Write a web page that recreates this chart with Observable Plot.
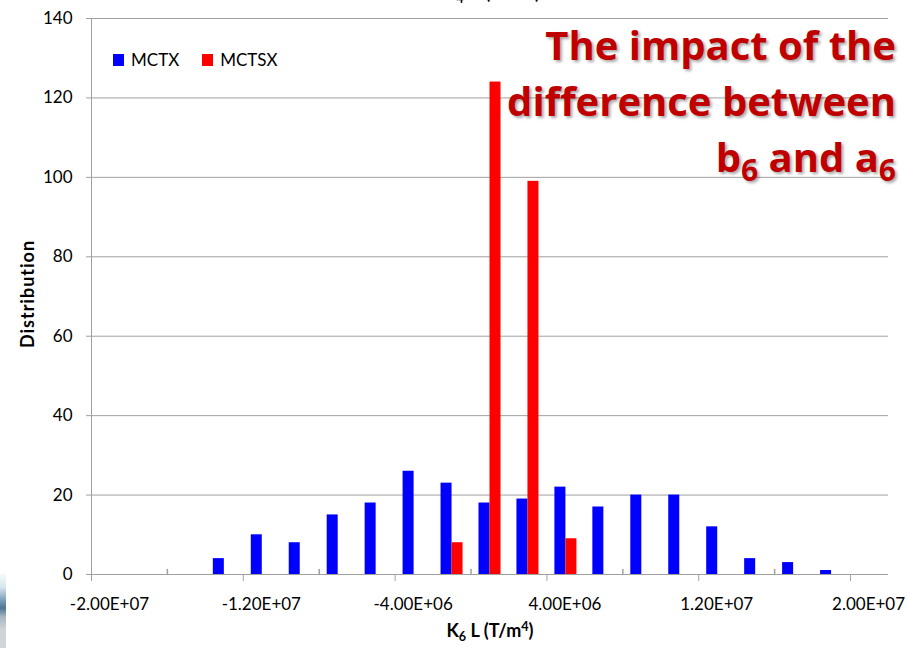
<!DOCTYPE html>
<html>
<head>
<meta charset="utf-8">
<script src="https://cdn.jsdelivr.net/npm/d3@7"></script>
<script src="https://cdn.jsdelivr.net/npm/@observablehq/plot@0.6"></script>
<style>
  body { margin: 0; background: #fff; }
  #wrap { position: relative; width: 910px; height: 648px; overflow: hidden; font-family: Lato, "Open Sans", sans-serif; }
  #wrap svg { position: absolute; left: 0; top: 0; }
  .legend { position: absolute; top: 49px; left: 113px; display: flex; align-items: center; font-size: 17px; color: #000; }
  .legend .sw { width: 11px; height: 12px; margin-right: 7px; }
  .legend .item { display: flex; align-items: center; margin-right: 23px; }
  .note { position: absolute; right: 14px; top: 17px; text-align: right; color: #c00000; font-family: "Open Sans", Lato, sans-serif; font-weight: 700; font-size: 40px; line-height: 56px; text-shadow: 2px 2px 3px rgba(0,0,0,0.35); }
  .note sub { font-size: 0.75em; vertical-align: -0.3em; line-height: 0; }
  .ytitle { position: absolute; left: 27px; top: 294px; transform: translate(-50%, -50%) rotate(-90deg); font-weight: 700; font-size: 18px; letter-spacing: 1px; white-space: nowrap; }
  .xtitle { position: absolute; left: 490px; top: 619px; transform: translateX(-50%); font-weight: 700; font-size: 18px; white-space: nowrap; }
  .toptitle { position: absolute; left: 492px; top: -19px; transform: translateX(-50%); font-weight: 700; font-size: 18px; letter-spacing: 1px; white-space: nowrap; }
  .xtitle sub, .toptitle sub { font-size: 0.7em; vertical-align: -0.3em; line-height: 0; }
  .xtitle sup, .toptitle sup { font-size: 0.7em; vertical-align: 0.45em; line-height: 0; }
  .corner { position: absolute; left: 0; top: 574px; width: 6px; height: 74px;
            background: linear-gradient(#f4fafb, #d6e6ee 18%, #6f93b0 38%, #4f7596 46%, #a7b7c3 58%, #cfd3d6 75%, #d3d5d7); }
</style>
</head>
<body>
<div id="wrap"></div>
<script>
// Histogram bins (centres, T/m^4) and counts for the two runs
const binCenters = [-1.3e7, -1.1e7, -9e6, -7e6, -5e6, -3e6, -1e6, 1e6, 3e6, 5e6, 7e6, 9e6, 1.1e7, 1.3e7, 1.5e7, 1.7e7, 1.9e7];
const mctx  = [4, 10, 8, 15, 18, 26, 23, 18, 19, 22, 17, 20, 20, 12, 4, 3, 1];
const mctsx = [0, 0, 0, 0, 0, 0, 8, 124, 99, 9, 0, 0, 0, 0, 0, 0, 0];

const seriesNames = ["MCTX", "MCTSX"];
const yTicks = [0, 20, 40, 60, 80, 100, 120, 140];
const xTicks = [-2e7, -1.2e7, -4e6, 4e6, 1.2e7, 2e7];
const xMinorTicks = [-1.6e7, -8e6, 0, 8e6, 1.6e7];

const colors = ["#0000ff", "#ff0000"];
const gridColor = "#a0a0a0";
const barWidth = 0.58e6; // each bar of a pair, in x units

// Spreadsheet-style scientific labels, e.g. -1.20E+07
const sci = v => {
  const [m, e] = v.toExponential(2).split("e");
  return m + "E" + e[0] + String(Math.abs(+e)).padStart(2, "0");
};

const rows = binCenters.flatMap((c, i) => [
  {series: seriesNames[0], center: c, value: mctx[i]},
  {series: seriesNames[1], center: c, value: mctsx[i]}
]).filter(d => d.value > 0);

const tickUp = {draw(ctx, l) { ctx.moveTo(0, 0); ctx.lineTo(0, -l); }};

const chart = Plot.plot({
  width: 910,
  height: 648,
  marginLeft: 91,
  marginRight: 22,
  marginTop: 18,
  marginBottom: 74,
  style: {fontFamily: "Lato, 'Open Sans', sans-serif", fontSize: "17px", background: "transparent"},
  x: {domain: [-2e7, 2.2e7]},
  y: {domain: [0, 140]},
  color: {domain: seriesNames, range: colors},
  marks: [
    Plot.gridY(yTicks.filter(v => v > 0), {stroke: gridColor, strokeOpacity: 1}),
    Plot.rectY(rows, {
      x1: d => d.series === seriesNames[0] ? d.center - barWidth : d.center,
      x2: d => d.series === seriesNames[0] ? d.center : d.center + barWidth,
      y1: 0,
      y2: "value",
      fill: "series"
    }),
    Plot.ruleY([0], {stroke: gridColor}),
    Plot.ruleX([-2e7], {y1: 0, y2: 140, stroke: gridColor}),
    Plot.axisY({ticks: yTicks, tickSize: 5, tickPadding: 14, fontSize: 17, label: null, stroke: gridColor, fill: "#000"}),
    // major ticks hang below the axis; their labels sit a little to the right
    Plot.axisX({ticks: xTicks, tickSize: 7, label: null, tickFormat: () => "", stroke: gridColor}),
    Plot.text(xTicks, {x: d => d, y: 0, text: sci, dx: 18, dy: 30, fontSize: 17, fill: "#000"}),
    Plot.vector(xMinorTicks, {x: d => d, y: 0, length: 5, rotate: 0, anchor: "start", shape: tickUp, stroke: gridColor})
  ]
});

const wrap = document.getElementById("wrap");
wrap.appendChild(chart);

wrap.insertAdjacentHTML("beforeend", `
  <div class="corner"></div>
  <div class="toptitle">K<sub>4</sub> L (T/m<sup>4</sup>)</div>
  <div class="legend">
    <div class="item"><div class="sw" style="background:${colors[0]}"></div>${seriesNames[0]}</div>
    <div class="item"><div class="sw" style="background:${colors[1]}"></div>${seriesNames[1]}</div>
  </div>
  <div class="note">The impact of the<br>difference between<br>b<sub>6</sub> and a<sub>6</sub></div>
  <div class="ytitle">Distribution</div>
  <div class="xtitle">K<sub>6</sub> L (T/m<sup>4</sup>)</div>
`);
</script>
</body>
</html>
